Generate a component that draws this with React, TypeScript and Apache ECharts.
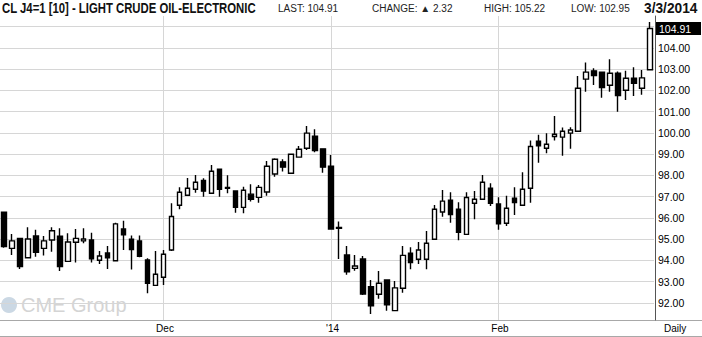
import React, { useEffect, useRef } from "react";
import * as echarts from "echarts";

// Trading days (categories)
const dates: string[] = [
  "2013-11-01", "2013-11-04", "2013-11-05", "2013-11-06", "2013-11-07", "2013-11-08",
  "2013-11-11", "2013-11-12", "2013-11-13", "2013-11-14", "2013-11-15",
  "2013-11-18", "2013-11-19", "2013-11-20", "2013-11-21", "2013-11-22",
  "2013-11-25", "2013-11-26", "2013-11-27", "2013-11-29",
  "2013-12-02", "2013-12-03", "2013-12-04", "2013-12-05", "2013-12-06",
  "2013-12-09", "2013-12-10", "2013-12-11", "2013-12-12", "2013-12-13",
  "2013-12-16", "2013-12-17", "2013-12-18", "2013-12-19", "2013-12-20",
  "2013-12-23", "2013-12-24", "2013-12-26", "2013-12-27", "2013-12-30", "2013-12-31",
  "2014-01-02", "2014-01-03", "2014-01-06", "2014-01-07", "2014-01-08", "2014-01-09", "2014-01-10",
  "2014-01-13", "2014-01-14", "2014-01-15", "2014-01-16", "2014-01-17",
  "2014-01-21", "2014-01-22", "2014-01-23", "2014-01-24",
  "2014-01-27", "2014-01-28", "2014-01-29", "2014-01-30", "2014-01-31",
  "2014-02-03", "2014-02-04", "2014-02-05", "2014-02-06", "2014-02-07",
  "2014-02-10", "2014-02-11", "2014-02-12", "2014-02-13", "2014-02-14",
  "2014-02-18", "2014-02-19", "2014-02-20", "2014-02-21",
  "2014-02-24", "2014-02-25", "2014-02-26", "2014-02-27", "2014-02-28",
  "2014-03-03",
];

const opens: number[] = [
  96.27, 94.57, 95.04, 94.13, 95.15, 94.57, 94.96, 95.14, 93.96, 94.86,
  94.92, 94.96, 94.01, 94.35, 93.99, 95.48, 95.0, 94.92, 94.02, 92.83,
  93.21, 94.49, 96.6, 97.07, 97.35, 97.77, 97.16, 98.29, 97.44, 97.27,
  96.5, 97.12, 96.97, 97.22, 98.07, 98.64, 98.1, 98.86, 99.28, 99.84,
  99.25, 98.43, 95.55, 94.26, 93.63, 94.07, 92.77, 92.41, 93.08, 91.64,
  92.69, 94.34, 94.06, 94.06, 95.0, 96.28, 96.83, 96.41, 95.23, 96.69,
  96.88, 97.4, 96.66, 95.75, 96.93, 96.6, 97.4, 99.61, 99.28, 99.83,
  99.8, 99.99, 100.08, 102.53, 102.92, 102.86, 102.24, 102.81, 102.01, 102.57,
  102.1, 102.97,
];
const highs: number[] = [
  96.3, 95.25, 95.06, 95.56, 95.44, 95.15, 95.56, 95.52, 95.28, 95.48,
  95.52, 95.31, 94.45, 94.68, 95.78, 95.87, 95.17, 95.17, 94.1, 94.45,
  94.49, 96.69, 97.44, 97.88, 98.02, 97.87, 98.49, 98.3, 98.01, 97.29,
  97.47, 97.59, 97.55, 98.68, 98.81, 98.76, 99.02, 99.39, 100.33, 100.17,
  99.28, 98.96, 95.83, 94.68, 94.26, 94.21, 93.08, 93.51, 93.1, 93.04,
  94.68, 94.62, 94.87, 95.39, 96.61, 97.32, 97.21, 96.74, 97.21, 97.27,
  98.02, 97.63, 96.97, 97.04, 97.44, 98.15, 99.64, 99.91, 99.99, 100.8,
  100.25, 100.27, 102.68, 103.31, 103.04, 102.89, 103.47, 102.89, 102.92, 103.09,
  102.96, 105.22,
];
const lows: number[] = [
  94.6, 94.26, 93.6, 94.1, 94.18, 94.23, 94.41, 93.51, 93.95, 93.9,
  94.81, 93.9, 93.84, 93.6, 93.98, 94.49, 93.57, 94.15, 92.46, 92.8,
  92.85, 94.45, 96.41, 97.05, 97.19, 97.0, 97.14, 97.0, 97.16, 96.25,
  96.22, 96.77, 96.72, 97.05, 97.94, 98.18, 98.08, 98.84, 99.2, 99.09,
  98.13, 95.45, 94.07, 93.33, 93.52, 92.38, 91.48, 92.2, 91.64, 91.62,
  92.48, 93.59, 93.84, 93.59, 94.98, 96.06, 95.78, 94.95, 95.21, 95.94,
  96.86, 96.56, 95.44, 95.62, 96.14, 96.58, 96.72, 98.6, 99.04, 99.64,
  98.93, 99.25, 100.06, 101.94, 102.26, 101.66, 101.94, 101.0, 101.55, 101.74,
  101.79, 102.95,
];
const closes: number[] = [
  94.65, 94.92, 93.71, 95.01, 94.39, 94.92, 95.4, 93.71, 94.87, 95.04,
  95.01, 94.08, 94.21, 94.13, 95.72, 95.21, 94.51, 94.2, 92.93, 93.35,
  94.29, 96.07, 97.21, 97.4, 97.68, 97.26, 98.2, 97.35, 97.4, 96.5,
  97.3, 96.88, 97.44, 98.43, 98.76, 98.39, 99.0, 99.23, 99.99, 99.17,
  98.39, 95.48, 95.51, 93.47, 93.74, 92.42, 91.87, 92.93, 91.92, 92.71,
  94.24, 93.9, 94.49, 94.81, 96.41, 96.79, 96.16, 95.33, 96.96, 96.88,
  97.68, 96.69, 95.72, 96.46, 96.72, 97.35, 99.36, 99.4, 99.47, 99.94,
  100.08, 100.14, 102.1, 102.86, 102.7, 102.13, 102.81, 101.76, 102.57, 102.34,
  102.59, 104.91,
];

const yTicks: number[] = [92, 93, 94, 95, 96, 97, 98, 99, 100, 101, 102, 103, 104, 105];
const xTickDates: string[] = ["2013-12-02", "2014-01-02", "2014-02-03"];
const xTickLabels: string[] = ["Dec", "'14", "Feb"];

const title = "CL J4=1 [10] - LIGHT CRUDE OIL-ELECTRONIC";
const lastText = "LAST: 104.91";
const changeText = "CHANGE: \u25B2 2.32";
const highText = "HIGH: 105.22";
const lowText = "LOW: 102.95";
const dateText = "3/3/2014";
const lastPrice = 104.91;

const SANS = '"Liberation Sans", Arial, sans-serif';

export default function App() {
  const ref = useRef<HTMLDivElement>(null);

  useEffect(() => {
    if (!ref.current) return;
    const chart = echarts.init(ref.current, null, { renderer: "svg" });

    const candleData = dates.map((_, i) => [opens[i], closes[i], lows[i], highs[i]]);
    const labelMap: Record<string, string> = {};
    xTickDates.forEach((d, i) => (labelMap[d] = xTickLabels[i]));
    const tickIdx = xTickDates.map((d) => dates.indexOf(d));

    const gridColor = "#d6d6d6";

    const option: any = {
      animation: false,
      backgroundColor: "#ffffff",
      textStyle: { fontFamily: SANS },
      grid: { left: -2, right: 48, top: 16, bottom: 17, containLabel: false },
      xAxis: {
        type: "category",
        data: dates,
        boundaryGap: true,
        axisLine: { show: true, lineStyle: { color: "#a8a8a8", width: 1 } },
        axisTick: { show: false },
        splitLine: { show: false },
        axisLabel: {
          interval: (i: number) => tickIdx.includes(i),
          formatter: (v: string) => labelMap[v] ?? "",
          color: "#000",
          fontSize: 10,
          fontFamily: SANS,
          margin: 3,
          padding: [0, 0, 0, 3],
        },
      },
      yAxis: {
        type: "value",
        position: "right",
        min: 91.2,
        max: 105.5,
        offset: 1,
        axisLine: { show: true, lineStyle: { color: "#555", width: 1 } },
        axisTick: { show: false },
        axisLabel: { show: false },
        splitLine: { show: false },
      },
      series: [
        {
          type: "candlestick",
          data: candleData,
          barWidth: 5,
          z: 3,
          itemStyle: {
            color: "#ffffff",
            color0: "#000000",
            borderColor: "#000000",
            borderColor0: "#000000",
            borderWidth: 1.4,
          },
          markLine: {
            silent: true,
            symbol: ["none", "none"],
            z: 1,
            animation: false,
            data: [
              ...yTicks.map((v) => ({
                yAxis: v,
                lineStyle: { color: gridColor, width: 1, type: "solid" },
                label: {
                  show: v !== 105,
                  position: "end",
                  distance: 4,
                  formatter: () => v.toFixed(2),
                  color: "#000",
                  fontSize: 10.5,
                  fontFamily: SANS,
                },
              })),
              ...xTickDates.map((d) => ({
                xAxis: d,
                lineStyle: { color: gridColor, width: 1, type: "solid" },
                label: { show: false },
              })),
            ],
          },
        },
      ],
      graphic: [
        {
          type: "text",
          x: 2,
          y: 8,
          scaleX: 0.81,
          style: { text: title, font: `bold 14px ${SANS}`, fill: "#111", verticalAlign: "middle" },
        },
        { type: "text", x: 278, y: 8, style: { text: lastText, font: `10px ${SANS}`, fill: "#222", verticalAlign: "middle" } },
        { type: "text", x: 372, y: 8, style: { text: changeText, font: `10px ${SANS}`, fill: "#222", verticalAlign: "middle" } },
        { type: "text", x: 484, y: 8, style: { text: highText, font: `10px ${SANS}`, fill: "#222", verticalAlign: "middle" } },
        { type: "text", x: 571, y: 8, style: { text: lowText, font: `10px ${SANS}`, fill: "#222", verticalAlign: "middle" } },
        { type: "text", x: 644, y: 8, scaleX: 0.98, style: { text: dateText, font: `bold 14px ${SANS}`, fill: "#111", verticalAlign: "middle" } },
        // axis extension and bottom border
        { type: "line", shape: { x1: 654, y1: 320.5, x2: 702, y2: 320.5 }, style: { stroke: "#a8a8a8", lineWidth: 1 } },
        { type: "line", shape: { x1: 0, y1: 336.5, x2: 702, y2: 336.5 }, style: { stroke: "#a8a8a8", lineWidth: 1 } },
        { type: "text", x: 664, y: 328, style: { text: "Daily", font: `10px ${SANS}`, fill: "#000", verticalAlign: "middle" } },
        // watermark logo
        { type: "circle", z: 0, shape: { cx: 9, cy: 305, r: 8 }, style: { fill: "#cbd8e4" } },
        { type: "text", z: 0, x: 21, y: 305, style: { text: "CME Group", font: `20px ${SANS}`, fill: "#d4d4d4", verticalAlign: "middle" } },
      ],
    };

    chart.setOption(option);

    // last price tag placed on the value axis
    const py = chart.convertToPixel({ yAxisIndex: 0 }, lastPrice) as number;
    chart.setOption({
      graphic: [
        {
          id: "lastTag",
          type: "rect",
          z: 10,
          shape: { x: 656, y: py - 6.5, width: 45, height: 13 },
          style: { fill: "#000" },
        },
        {
          id: "lastTagText",
          type: "text",
          z: 11,
          x: 659,
          y: py,
          style: { text: lastPrice.toFixed(2), font: `10.5px ${SANS}`, fill: "#fff", verticalAlign: "middle" },
        },
      ],
    });

    return () => chart.dispose();
  }, []);

  return (
    <div
      ref={ref}
      style={{ position: "absolute", left: 0, top: 0, width: 702, height: 337 }}
    />
  );
}
